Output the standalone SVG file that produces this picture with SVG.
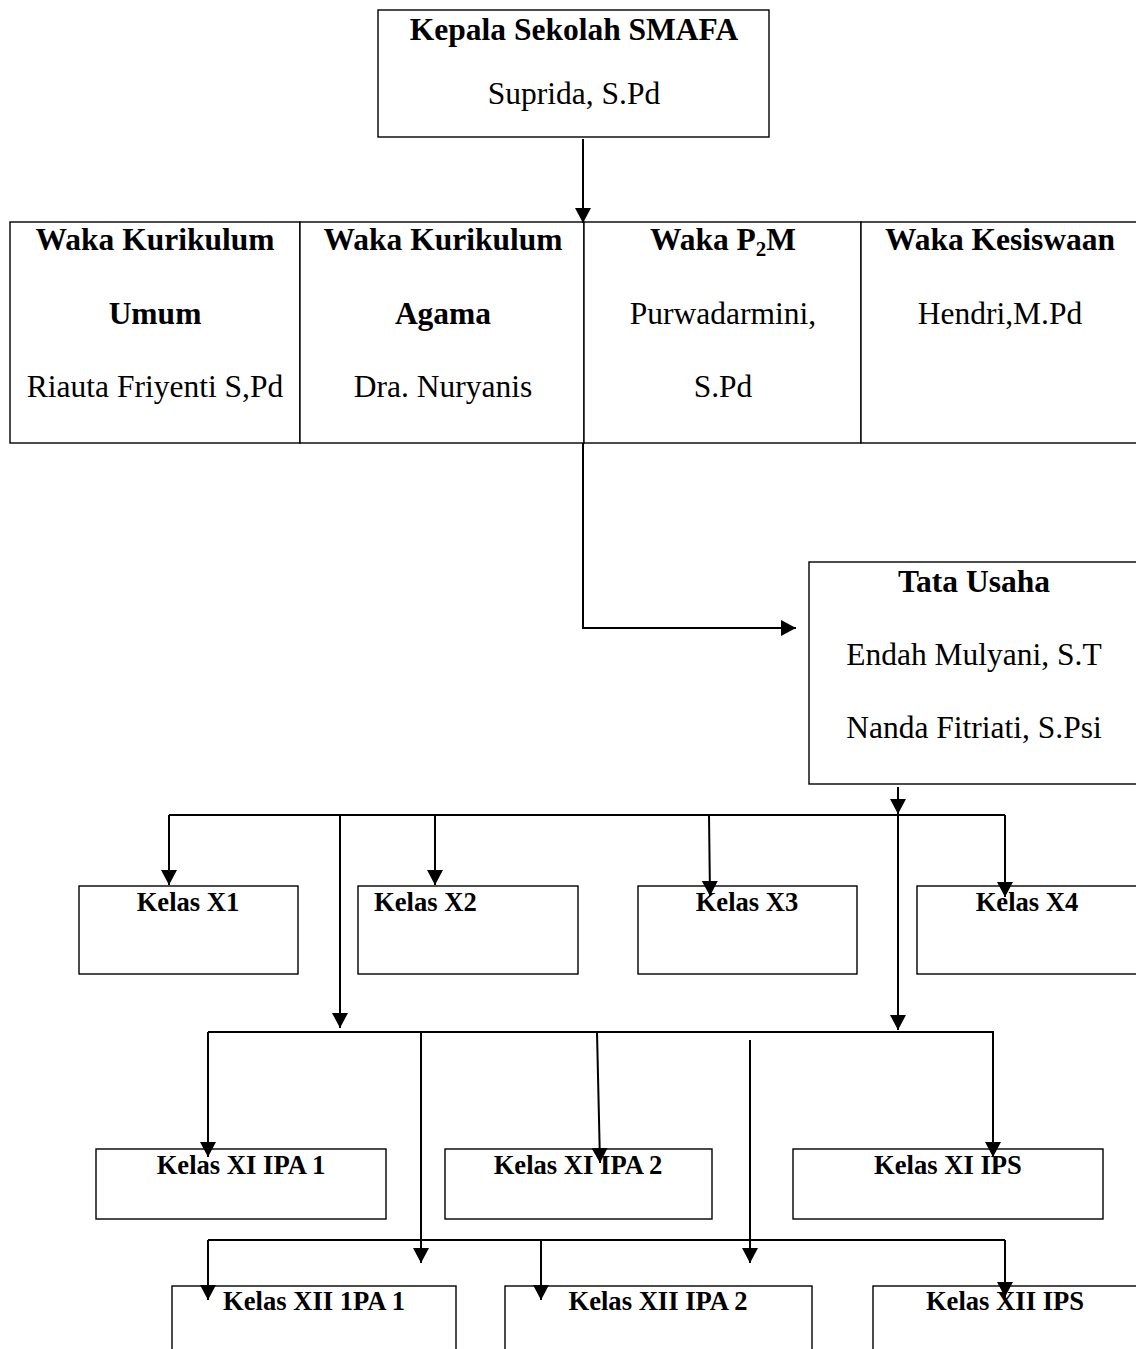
<svg xmlns="http://www.w3.org/2000/svg" width="1136" height="1349" viewBox="0 0 1136 1349">
<style>
.box{fill:#fff;stroke:#000;stroke-width:1.4}
.t{font-family:"Liberation Serif","Times New Roman",serif;font-size:31.5px;fill:#000;text-anchor:middle}
.b{font-weight:bold}
.k{font-family:"Liberation Serif","Times New Roman",serif;font-size:26.6px;font-weight:bold;fill:#000;text-anchor:middle}
.c{fill:none;stroke:#000;stroke-width:2}
</style>
<defs>
<marker id="ah" markerUnits="userSpaceOnUse" markerWidth="16" markerHeight="18" refX="15" refY="8" orient="auto">
<path d="M0,0 L15,8 L0,16 Z" fill="#000"/>
</marker>
</defs>
<rect width="1136" height="1349" fill="#fff"/>

<g id="kepala">
<rect class="box" x="378" y="10" width="391" height="127"/>
<text class="t b" x="574" y="40">Kepala Sekolah SMAFA</text>
<text class="t" x="574" y="104">Suprida, S.Pd</text>
</g>

<g id="waka-umum">
<rect class="box" x="10" y="222" width="290" height="221"/>
<text class="t b" x="155" y="250">Waka Kurikulum</text>
<text class="t b" x="155" y="324">Umum</text>
<text class="t" x="155" y="397">Riauta Friyenti S,Pd</text>
</g>
<g id="waka-agama">
<rect class="box" x="300" y="222" width="284" height="221"/>
<text class="t b" x="443" y="250">Waka Kurikulum</text>
<text class="t b" x="443" y="324">Agama</text>
<text class="t" x="443" y="397">Dra. Nuryanis</text>
</g>
<g id="waka-p2m">
<rect class="box" x="584" y="222" width="277" height="221"/>
<text class="t b" x="723" y="250">Waka P<tspan font-size="21" dy="6">2</tspan><tspan dy="-6">M</tspan></text>
<text class="t" x="723" y="324">Purwadarmini,</text>
<text class="t" x="723" y="397">S.Pd</text>
</g>
<g id="waka-kesiswaan">
<rect class="box" x="861" y="222" width="300" height="221"/>
<text class="t b" x="1000" y="250">Waka Kesiswaan</text>
<text class="t" x="1000" y="324">Hendri,M.Pd</text>
</g>

<g id="tata-usaha">
<rect class="box" x="809" y="562" width="340" height="222"/>
<text class="t b" x="974" y="592">Tata Usaha</text>
<text class="t" x="974" y="665">Endah Mulyani, S.T</text>
<text class="t" x="974" y="738">Nanda Fitriati, S.Psi</text>
</g>

<g id="kelas-x1">
<rect class="box" x="79" y="886" width="219" height="88"/>
<text class="k" x="188" y="911">Kelas X1</text>
</g>
<g id="kelas-x2">
<rect class="box" x="358" y="886" width="220" height="88"/>
<text class="k" x="374" y="911" text-anchor="start" style="text-anchor:start">Kelas X2</text>
</g>
<g id="kelas-x3">
<rect class="box" x="638" y="886" width="219" height="88"/>
<text class="k" x="747" y="911">Kelas X3</text>
</g>
<g id="kelas-x4">
<rect class="box" x="917" y="886" width="230" height="88"/>
<text class="k" x="1027" y="911">Kelas X4</text>
</g>

<g id="kelas-xi-ipa1">
<rect class="box" x="96" y="1149" width="290" height="70"/>
<text class="k" x="241" y="1174">Kelas XI IPA 1</text>
</g>
<g id="kelas-xi-ipa2">
<rect class="box" x="445" y="1149" width="267" height="70"/>
<text class="k" x="578" y="1174">Kelas XI IPA 2</text>
</g>
<g id="kelas-xi-ips">
<rect class="box" x="793" y="1149" width="310" height="70"/>
<text class="k" x="948" y="1174">Kelas XI IPS</text>
</g>

<g id="kelas-xii-ipa1">
<rect class="box" x="172" y="1286" width="284" height="80"/>
<text class="k" x="314" y="1310">Kelas XII 1PA 1</text>
</g>
<g id="kelas-xii-ipa2">
<rect class="box" x="505" y="1286" width="307" height="80"/>
<text class="k" x="658" y="1310">Kelas XII IPA 2</text>
</g>
<g id="kelas-xii-ips">
<rect class="box" x="873" y="1286" width="280" height="80"/>
<text class="k" x="1005" y="1310">Kelas XII IPS</text>
</g>

<g id="connectors">
<path class="c" d="M583,139 V223" marker-end="url(#ah)"/>
<path class="c" d="M583,443 V628 H796" marker-end="url(#ah)"/>
<path class="c" d="M898,787 V814" marker-end="url(#ah)"/>
<path class="c" d="M169,815 H1005"/>
<path class="c" d="M169,815 V885" marker-end="url(#ah)"/>
<path class="c" d="M435,815 V885" marker-end="url(#ah)"/>
<path class="c" d="M709,815 L710,896" marker-end="url(#ah)"/>
<path class="c" d="M1005,815 V897" marker-end="url(#ah)"/>
<path class="c" d="M340,815 V1028" marker-end="url(#ah)"/>
<path class="c" d="M898,815 V1030" marker-end="url(#ah)"/>
<path class="c" d="M208,1032 H994"/>
<path class="c" d="M208,1032 V1157" marker-end="url(#ah)"/>
<path class="c" d="M597,1032 L600,1163" marker-end="url(#ah)"/>
<path class="c" d="M993,1032 V1157" marker-end="url(#ah)"/>
<path class="c" d="M421,1032 V1263" marker-end="url(#ah)"/>
<path class="c" d="M750,1040 V1263" marker-end="url(#ah)"/>
<path class="c" d="M208,1240 H1005"/>
<path class="c" d="M208,1240 V1300" marker-end="url(#ah)"/>
<path class="c" d="M541,1240 V1300" marker-end="url(#ah)"/>
<path class="c" d="M1005,1240 V1297" marker-end="url(#ah)"/>
</g>
</svg>
